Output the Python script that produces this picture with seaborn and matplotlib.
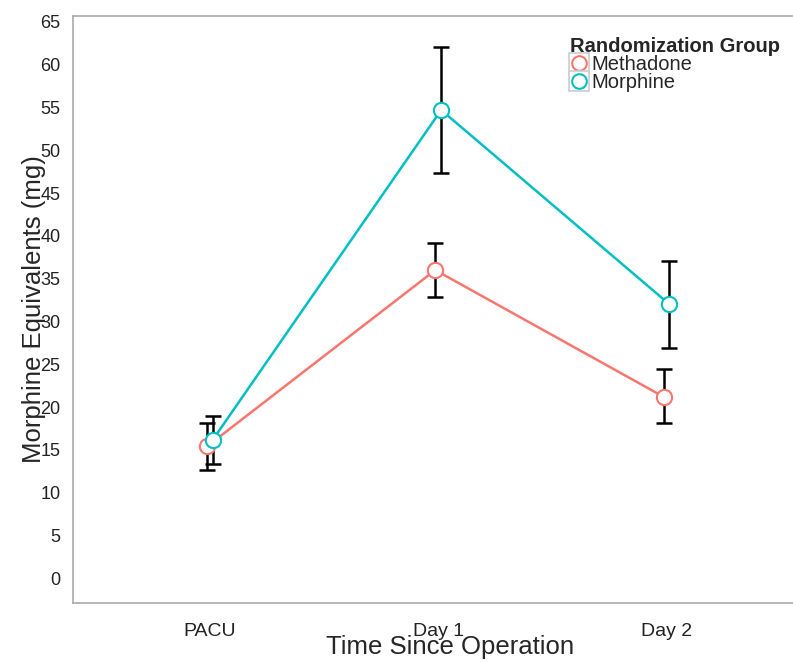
import numpy as np
import pandas as pd
import matplotlib
matplotlib.use("Agg")
import matplotlib.pyplot as plt
from matplotlib.lines import Line2D
from matplotlib.legend_handler import HandlerTuple
import seaborn as sns

# -----------------------------
# DATA
# -----------------------------

times = ["PACU", "Day 1", "Day 2"]
groups = ["Methadone", "Morphine"]

methadone_mean = [15.4, 36.0, 21.2]
methadone_low = [12.6, 32.9, 18.1]
methadone_high = [18.1, 39.2, 24.4]

morphine_mean = [16.2, 54.7, 32.0]
morphine_low = [13.4, 47.3, 26.9]
morphine_high = [19.0, 62.1, 37.1]

colors = {"Methadone": "#F8766D", "Morphine": "#00BFC4"}
dodge = {"Methadone": -0.013, "Morphine": 0.013}

rows = []
for g, means, lows, highs in [
    ("Methadone", methadone_mean, methadone_low, methadone_high),
    ("Morphine", morphine_mean, morphine_low, morphine_high),
]:
    for i, t in enumerate(times):
        rows.append({"time": t, "pos": i + dodge[g], "group": g,
                     "mean": means[i], "low": lows[i], "high": highs[i]})
df = pd.DataFrame(rows)

# -----------------------------
# PLOT
# -----------------------------

sns.set_style("white")
plt.rcParams["font.family"] = ["Liberation Sans", "DejaVu Sans"]

fig = plt.figure(figsize=(7.93, 6.62), dpi=100)
ax = fig.add_axes([0.092, 0.089, 0.95, 0.887])

for g in groups:
    sub = df[df["group"] == g]
    ax.errorbar(sub["pos"], sub["mean"],
                yerr=[sub["mean"] - sub["low"], sub["high"] - sub["mean"]],
                fmt="none", ecolor="black", elinewidth=1.8,
                capsize=6, capthick=1.8, zorder=2)

for g in groups:
    sns.lineplot(data=df[df["group"] == g], x="pos", y="mean",
                 color=colors[g], marker="o", markersize=11,
                 markerfacecolor="white", markeredgecolor=colors[g],
                 markeredgewidth=1.5, linewidth=1.8, legend=False,
                 ax=ax, zorder=3)

ax.set_xlim(-0.6, 2.7)
ax.set_ylim(-2.9, 65.7)
ax.set_xticks(range(len(times)))
ax.set_xticklabels(times)
ax.set_yticks(np.arange(0, 66, 5))

ax.tick_params(axis="x", length=0, labelsize=14, colors="#222222", pad=14)
ax.tick_params(axis="y", length=0, labelsize=13, colors="#222222", pad=9)

ax.set_xlabel("Time Since Operation", fontsize=18.5, labelpad=-3)
ax.set_ylabel("Morphine Equivalents (mg)", fontsize=18.5, labelpad=-4)

for side in ["top", "left", "bottom"]:
    ax.spines[side].set_color("#aaaaaa")
    ax.spines[side].set_linewidth(1.2)
ax.spines["right"].set_visible(False)

# legend with grey key boxes behind open circles
handles = []
for g in groups:
    key = Line2D([], [], marker="s", markersize=14.5, markerfacecolor="white",
                 markeredgecolor="#cccccc", markeredgewidth=1.2,
                 linestyle="none")
    pt = Line2D([], [], marker="o", markersize=10.5, markerfacecolor="white",
                markeredgecolor=colors[g], markeredgewidth=1.5,
                linestyle="none")
    handles.append((key, pt))

leg = fig.legend(handles, groups, title="Randomization Group",
                 loc="upper left", bbox_to_anchor=(0.719, 0.944),
                 frameon=False, fontsize=14.5, title_fontsize=14.5,
                 handler_map={tuple: HandlerTuple(ndivide=1, pad=0)},
                 handlelength=0.9, handletextpad=0.15, labelspacing=-0.05,
                 borderaxespad=0, borderpad=0)
leg.get_title().set_fontweight("bold")
leg._legend_box.align = "left"

fig.savefig("out.png", dpi=100)
